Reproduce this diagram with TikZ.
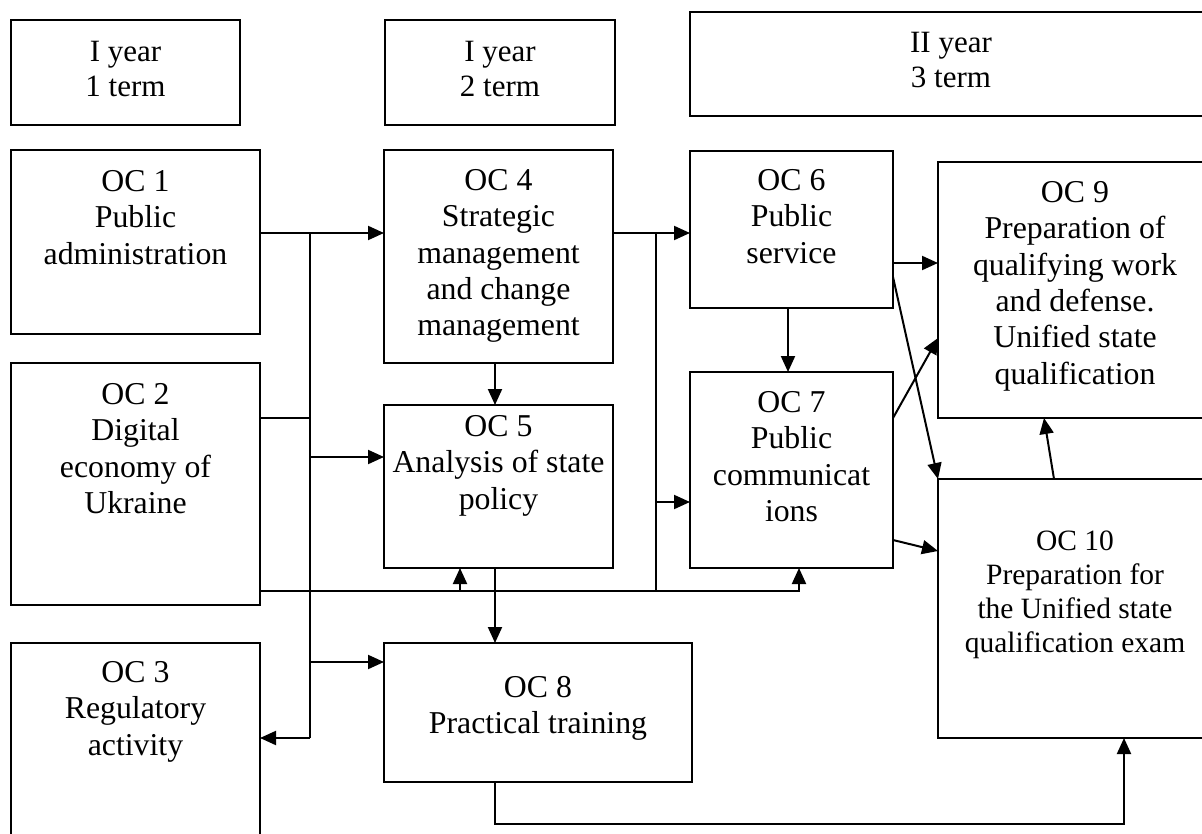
\documentclass[tikz,border=0pt]{standalone}
\usepackage{fontspec}
\setmainfont{Liberation Serif}
\usetikzlibrary{arrows.meta}
\newcommand\fsMain{\fontsize{31.8pt}{36.3pt}\selectfont}
\newcommand\fsHead{\fontsize{31pt}{35pt}\selectfont}
\newcommand\fsSmall{\fontsize{29.5pt}{34pt}\selectfont}
\begin{document}
\begin{tikzpicture}[x=1pt,y=-1pt,
  box/.style={draw, line width=2pt, inner sep=0pt, outer sep=0pt, anchor=north west},
  lbl/.style={anchor=north, inner sep=0pt, outer sep=0pt, align=center, font=\fsMain},
  ln/.style={line width=2pt},
  arr/.style={ln, -{Triangle[length=16pt,width=14pt]}}]

\clip (0,0) rectangle (1202,834);
\fill[white] (0,0) rectangle (1202,834);

% boxes
\node[box, minimum width=229pt, minimum height=105pt] (h1) at (11,20) {};
\node[box, minimum width=230pt, minimum height=105pt] (h2) at (385,20) {};
\node[box, minimum width=522pt, minimum height=104pt] (h3) at (690,12) {};
\node[box, minimum width=249pt, minimum height=184pt] (oc1) at (11,150) {};
\node[box, minimum width=249pt, minimum height=242pt] (oc2) at (11,363) {};
\node[box, minimum width=249pt, minimum height=210pt] (oc3) at (11,643) {};
\node[box, minimum width=229pt, minimum height=213pt] (oc4) at (384,150) {};
\node[box, minimum width=229pt, minimum height=163pt] (oc5) at (384,405) {};
\node[box, minimum width=203pt, minimum height=157pt] (oc6) at (690,151) {};
\node[box, minimum width=203pt, minimum height=196pt] (oc7) at (690,372) {};
\node[box, minimum width=308pt, minimum height=139pt] (oc8) at (384,643) {};
\node[box, minimum width=274pt, minimum height=256pt] (oc9) at (938,162) {};
\node[box, minimum width=274pt, minimum height=259pt] (oc10) at (938,479) {};

% texts
\node[lbl, font=\fsHead] (th1) at (125.5,41) {I year\\1 term};
\node[lbl, font=\fsHead] (th2) at (500,41) {I year\\2 term};
\node[lbl, font=\fsHead] (th3) at (951,32) {II year\\3 term};
\node[lbl] (t1) at (135.5,170.5) {OC 1\\Public\\administration};
\node[lbl] (t2) at (135.5,383.5) {OC 2\\Digital\\economy of\\Ukraine};
\node[lbl] (t3) at (135.5,661.5) {OC 3\\Regulatory\\activity};
\node[lbl] (t4) at (498.5,169.5) {OC 4\\Strategic\\management\\and change\\management};
\node[lbl] (t5) at (498.5,415.5) {OC 5\\Analysis of state\\policy};
\node[lbl] (t6) at (791.5,169.5) {OC 6\\Public\\service};
\node[lbl] (t7) at (791.5,391.5) {OC 7\\Public\\communicat\\ions};
\node[lbl] (t8) at (538,676.5) {OC 8\\Practical training};
\node[lbl] (t9) at (1075,181.5) {OC 9\\Preparation of\\qualifying work\\and defense.\\Unified state\\qualification};
\node[lbl, font=\fsSmall] (t10) at (1075,531) {OC 10\\Preparation for\\the Unified state\\qualification exam};

% junction coordinates
\coordinate (bt) at (310,233);
\coordinate (bb) at (310,738);
\coordinate (j2) at (310,418);
\coordinate (j5) at (310,457);
\coordinate (j8) at (310,662);
\coordinate (v45) at (495,0);
\coordinate (u5) at (460,591);
\coordinate (u7) at (799,591);
\coordinate (t2a) at (656,233);
\coordinate (t2b) at (656,591);
\coordinate (j7) at (656,502);
\coordinate (v67) at (788,0);
\coordinate (h69) at (0,263);
\coordinate (bot) at (0,824);
\coordinate (u10) at (1124,0);

% left trunk
\draw[arr] (oc1.east |- bt) -- (oc4.west |- bt);
\draw[ln] (bt) -- (bb);
\draw[ln] (j2 -| oc2.east) -- (j2);
\draw[arr] (j5) -- (j5 -| oc5.west);
\draw[arr] (j8) -- (j8 -| oc8.west);
\draw[arr] (bb) -- (bb -| oc3.east);

% vertical OC4 -> OC5 -> OC8
\draw[arr] (v45 |- oc4.south) -- (v45 |- oc5.north);
\draw[arr] (v45 |- oc5.south) -- (v45 |- oc8.north);

% bottom line from OC2
\draw[arr] (u7 -| oc2.east) -- (u7) -- (u7 |- oc7.south);
\draw[arr] (u5) -- (u5 |- oc5.south);

% second trunk
\draw[arr] (oc4.east |- t2a) -- (oc6.west |- t2a);
\draw[ln] (t2a) -- (t2b);
\draw[arr] (j7) -- (j7 -| oc7.west);

% OC6 / OC7 outputs
\draw[arr] (v67 |- oc6.south) -- (v67 |- oc7.north);
\draw[arr] (h69 -| oc6.east) -- (h69 -| oc9.west);
\draw[arr] (oc6.east |- 0,277) -- (oc10.north west);
\draw[arr] (oc7.east |- 0,418) -- (oc9.west |- 0,338);
\draw[arr] (oc7.east |- 0,540) -- (oc10.west |- 0,551);
\draw[arr] (oc10.north -| 1054,0) -- (oc9.south -| 1044,0);

% OC8 -> OC10
\draw[arr] (oc8.south -| v45) -- (v45 |- bot) -- (u10 |- bot) -- (u10 |- oc10.south);
\end{tikzpicture}
\end{document}
